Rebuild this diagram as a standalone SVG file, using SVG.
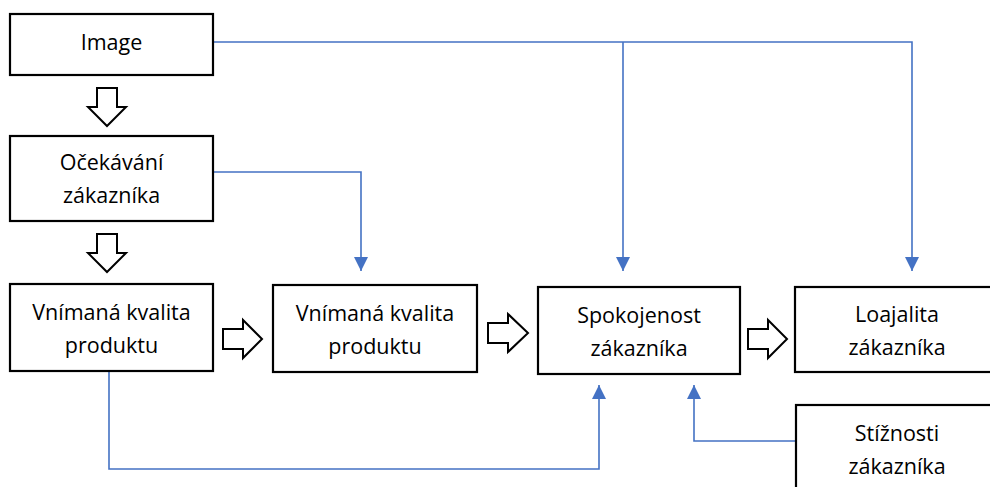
<svg xmlns="http://www.w3.org/2000/svg" width="990" height="487" viewBox="0 0 990 487">
<defs>
<style>
.box{fill:#fff;stroke:#000;stroke-width:2.2}
.t{font-family:"Open Sans","Liberation Sans",sans-serif;font-size:21.5px;fill:#000;text-anchor:middle}
.hol{fill:#fff;stroke:#000;stroke-width:2;stroke-linejoin:miter}
.con{fill:none;stroke:#4472C4;stroke-width:1.6}
</style>
<marker id="ah" markerUnits="userSpaceOnUse" markerWidth="14" markerHeight="14" viewBox="0 0 14 14" refX="14" refY="7" orient="auto">
<path d="M0,0 L14,7 L0,14 Z" fill="#4472C4"/>
</marker>
</defs>
<rect width="990" height="487" fill="#fff"/>

<g id="connectors">
<path class="con" d="M213,42 H912 V271" marker-end="url(#ah)"/>
<path class="con" d="M623,42 V271" marker-end="url(#ah)"/>
<path class="con" d="M213,172 H361 V271" marker-end="url(#ah)"/>
<path class="con" d="M109,371 V469 H599 V385" marker-end="url(#ah)"/>
<path class="con" d="M796,441 H694 V385" marker-end="url(#ah)"/>
<path class="hol" d="M97,88 H117 V107 H126 L107,126 L88,107 H97 Z"/>
<path class="hol" d="M97,234 H117 V253 H126 L107,272 L88,253 H97 Z"/>
<path class="hol" d="M223,329 H243 V320 L262,339 L243,358 V349 H223 Z"/>
<path class="hol" d="M488,323 H508 V314 L528,333 L508,352 V343 H488 Z"/>
<path class="hol" d="M748,329 H768 V320 L787,339 L768,358 V349 H748 Z"/>
</g>

<g id="image">
<rect class="box" x="10" y="14" width="203" height="61"/>
<text class="t" x="111.5" y="50">Image</text>
</g>
<g id="ocekavani">
<rect class="box" x="10" y="136" width="203" height="85"/>
<text class="t" x="111.5" y="170">Očekávání</text>
<text class="t" x="111.5" y="203">zákazníka</text>
</g>
<g id="kvalita1">
<rect class="box" x="10" y="284" width="203" height="87"/>
<text class="t" x="111.5" y="320">Vnímaná kvalita</text>
<text class="t" x="111.5" y="353">produktu</text>
</g>
<g id="kvalita2">
<rect class="box" x="273" y="285" width="204" height="87"/>
<text class="t" x="375" y="321">Vnímaná kvalita</text>
<text class="t" x="375" y="354">produktu</text>
</g>
<g id="spokojenost">
<rect class="box" x="538" y="287" width="202" height="87"/>
<text class="t" x="639" y="323">Spokojenost</text>
<text class="t" x="639" y="356">zákazníka</text>
</g>
<g id="loajalita">
<rect class="box" x="795" y="287" width="204" height="85"/>
<text class="t" x="897" y="322">Loajalita</text>
<text class="t" x="897" y="355">zákazníka</text>
</g>
<g id="stiznosti">
<rect class="box" x="796" y="405" width="204" height="90"/>
<text class="t" x="897" y="441">Stížnosti</text>
<text class="t" x="897" y="474">zákazníka</text>
</g>
</svg>
